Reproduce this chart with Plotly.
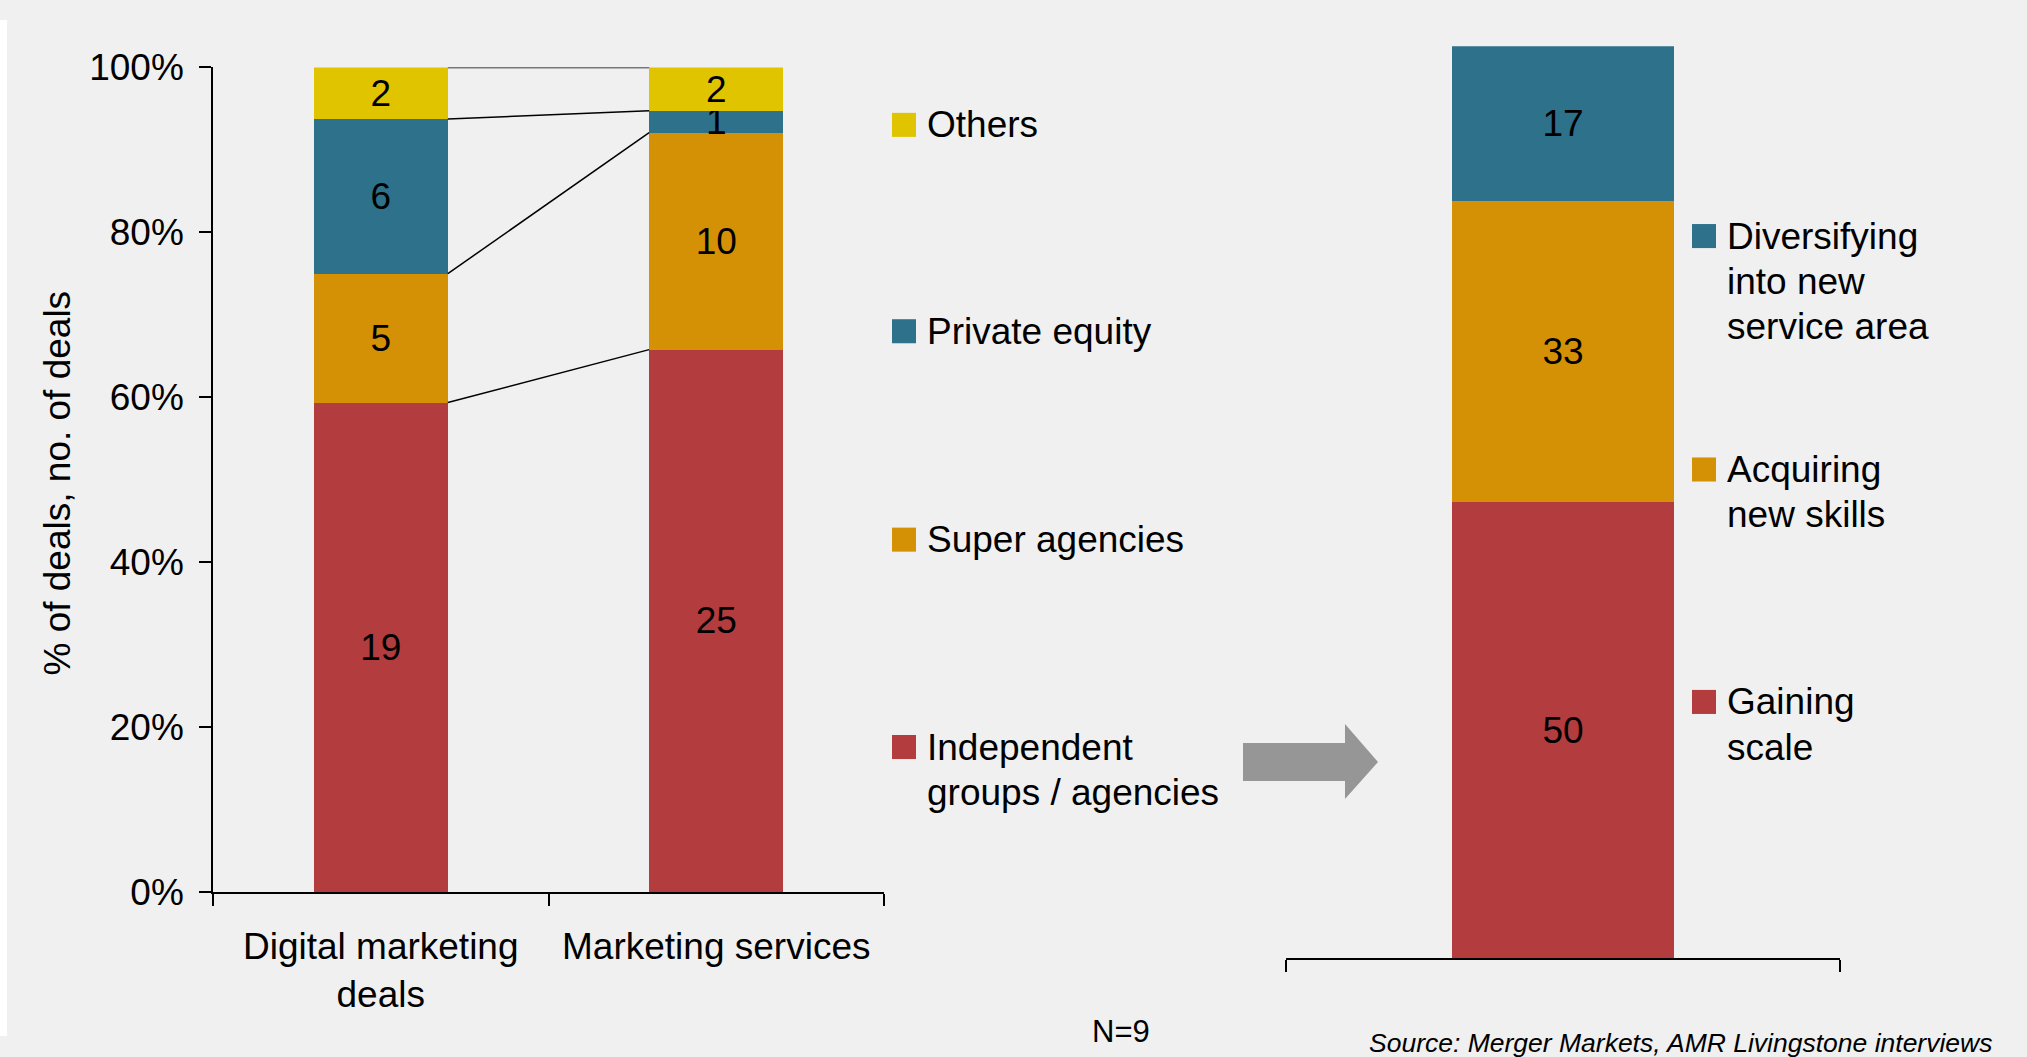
import plotly.graph_objects as go

# ---- data -------------------------------------------------------------
deal_categories = ["Digital marketing<br>deals", "Marketing services"]
acquirer_types = ["Independent groups / agencies", "Super agencies", "Private equity", "Others"]
independent_deals = [19, 25]
super_agency_deals = [5, 10]
private_equity_deals = [6, 1]
other_deals = [2, 2]

motive_category = ["Acquisition motive"]
motive_names = ["Gaining scale", "Acquiring new skills", "Diversifying into new service area"]
motive_shares = [50, 33, 17]

y_ticks = [0, 20, 40, 60, 80, 100]
y_tick_labels = [f"{v}%" for v in y_ticks]
sample_note = "N=9"
source_note = "Source: Merger Markets, AMR Livingstone interviews"

# ---- styling ----------------------------------------------------------
W, H = 2027, 1057
FONT = "Liberation Sans, Arial, Helvetica, sans-serif"
RED, ORANGE, TEAL, YELLOW = "#B33C3F", "#D59105", "#2E718B", "#E0C400"
BG = "#F0F0F0"
acquirer_colors = [RED, ORANGE, TEAL, YELLOW]
motive_colors = [RED, ORANGE, TEAL]

# vertical placement helper: page pixel -> paper fraction
SY, OY = 0.9594, 20.35


def fx(px):
    return px / W


def fy(py):
    return 1 - ((py - OY) / SY) / H


series = [independent_deals, super_agency_deals, private_equity_deals, other_deals]
totals = [sum(col) for col in zip(*series)]
shares = [[v / t * 100 for v, t in zip(s, totals)] for s in series]

fig = go.Figure()

# left: stacked share of deals by acquirer type, labelled with deal counts
for name, counts, pct, color in zip(acquirer_types, series, shares, acquirer_colors):
    fig.add_trace(go.Bar(
        x=deal_categories, y=pct, name=name, text=counts,
        texttemplate="%{text}", textposition="inside", insidetextanchor="middle",
        constraintext="none", textangle=0,
        textfont=dict(family=FONT, size=37, color="black"),
        marker=dict(color=color, line=dict(width=0)),
        xaxis="x", yaxis="y", showlegend=False, cliponaxis=False,
    ))

# right: acquisition motives
for name, share, color in zip(motive_names, motive_shares, motive_colors):
    fig.add_trace(go.Bar(
        x=motive_category, y=[share], name=name, text=[share],
        texttemplate="%{text}", textposition="inside", insidetextanchor="middle",
        constraintext="none", textangle=0,
        textfont=dict(family=FONT, size=37, color="black"),
        marker=dict(color=color, line=dict(width=0)),
        xaxis="x2", yaxis="y2", showlegend=False, cliponaxis=False,
    ))

shapes = []
# thin white strip along the left edge of the panel
shapes.append(dict(type="rect", xref="paper", yref="paper", x0=0, x1=fx(7), y0=0, y1=1,
                   fillcolor="white", line=dict(width=0), layer="below"))

# connector lines between the segment boundaries of the two left bars
cum = [[0, 0]]
for pct in shares:
    cum.append([cum[-1][0] + pct[0], cum[-1][1] + pct[1]])
for left_y, right_y in cum[1:]:
    shapes.append(dict(type="line", xref="x", yref="y", x0=0.2, x1=0.8, y0=left_y, y1=right_y,
                       line=dict(color="black", width=1.5), layer="above"))

# grey arrow between the panels
arrow_pts = [(1243, 742), (1345, 742), (1345, 723), (1378, 761), (1345, 798), (1345, 780), (1243, 780)]
path = "M " + " L ".join(f"{fx(x):.5f},{fy(y):.5f}" for x, y in arrow_pts) + " Z"
shapes.append(dict(type="path", xref="paper", yref="paper", path=path,
                   fillcolor="#969696", line=dict(width=0)))

annotations = []


def legend_entry(square_x, text_x, lines, y_first, color, spacing=45):
    shapes.append(dict(type="rect", xref="paper", yref="paper",
                       x0=fx(square_x), x1=fx(square_x + 24),
                       y0=fy(y_first + 12), y1=fy(y_first - 12),
                       fillcolor=color, line=dict(width=0)))
    for i, line in enumerate(lines):
        annotations.append(dict(xref="paper", yref="paper", x=fx(text_x), y=fy(y_first + i * spacing),
                                xanchor="left", yanchor="middle", showarrow=False, text=line,
                                font=dict(family=FONT, size=37, color="black")))


left_legend_lines = {
    "Others": ["Others"],
    "Private equity": ["Private equity"],
    "Super agencies": ["Super agencies"],
    "Independent groups / agencies": ["Independent", "groups / agencies"],
}
left_legend_y = {"Others": 125, "Private equity": 331, "Super agencies": 539,
                 "Independent groups / agencies": 746}
for name, color in zip(acquirer_types, acquirer_colors):
    legend_entry(892, 925, left_legend_lines[name], left_legend_y[name], color)

right_legend_lines = {
    "Diversifying into new service area": ["Diversifying", "into new", "service area"],
    "Acquiring new skills": ["Acquiring", "new skills"],
    "Gaining scale": ["Gaining", "scale"],
}
right_legend_y = {"Diversifying into new service area": 236, "Acquiring new skills": 469,
                  "Gaining scale": 701}
for name, color in zip(motive_names, motive_colors):
    legend_entry(1692, 1725, right_legend_lines[name], right_legend_y[name], color)

# y-axis title, sample size and source
annotations.append(dict(xref="paper", yref="paper", x=fx(58), y=fy(483), textangle=-90,
                        xanchor="center", yanchor="middle", showarrow=False,
                        text="% of deals, no. of deals", font=dict(family=FONT, size=37, color="black")))
annotations.append(dict(xref="paper", yref="paper", x=fx(1121), y=fy(1030),
                        xanchor="center", yanchor="middle", showarrow=False,
                        text=sample_note, font=dict(family=FONT, size=31, color="black")))
annotations.append(dict(xref="paper", yref="paper", x=fx(1994), y=fy(1041),
                        xanchor="right", yanchor="middle", showarrow=False,
                        text=f"<i>{source_note}</i>", font=dict(family=FONT, size=26.5, color="black")))

axis_font = dict(family=FONT, size=37, color="black")
fig.update_layout(
    width=W, height=H, autosize=False,
    margin=dict(l=0, r=0, t=0, b=0),
    paper_bgcolor=BG, plot_bgcolor="rgba(0,0,0,0)",
    barmode="stack", bargap=0.6,
    showlegend=False,
    shapes=shapes, annotations=annotations,
    xaxis=dict(domain=[fx(213), fx(884)], anchor="y", type="category",
               tickson="boundaries", ticks="outside", ticklen=12, tickwidth=1.5, tickcolor="black",
               ticklabelstandoff=20,
               showline=True, linecolor="black", linewidth=2, showgrid=False,
               tickfont=axis_font, fixedrange=True),
    yaxis=dict(domain=[fy(891), fy(67.7)], anchor="x", range=[0, 100],
               tickvals=y_ticks, ticktext=y_tick_labels, ticks="outside", ticklen=12, tickwidth=1.5,
               ticklabelstandoff=8,
               tickcolor="black", showline=True, linecolor="black", linewidth=1.5,
               showgrid=False, zeroline=False, tickfont=axis_font, fixedrange=True),
    xaxis2=dict(domain=[fx(1286), fx(1840)], anchor="y2", type="category",
                tickson="boundaries", ticks="outside", ticklen=12, tickwidth=1.5, tickcolor="black",
                showline=True, linecolor="black", linewidth=2, showgrid=False,
                showticklabels=False, fixedrange=True),
    yaxis2=dict(domain=[fy(957), fy(46.5)], anchor="x2", range=[0, 100], visible=False,
                fixedrange=True),
)

# grey page background around the figure
page_style = (
    "document.documentElement.style.background='#F0F0F0';"
    "document.body.style.background='#F0F0F0';"
)
fig.write_html("out.html", post_script=page_style)
